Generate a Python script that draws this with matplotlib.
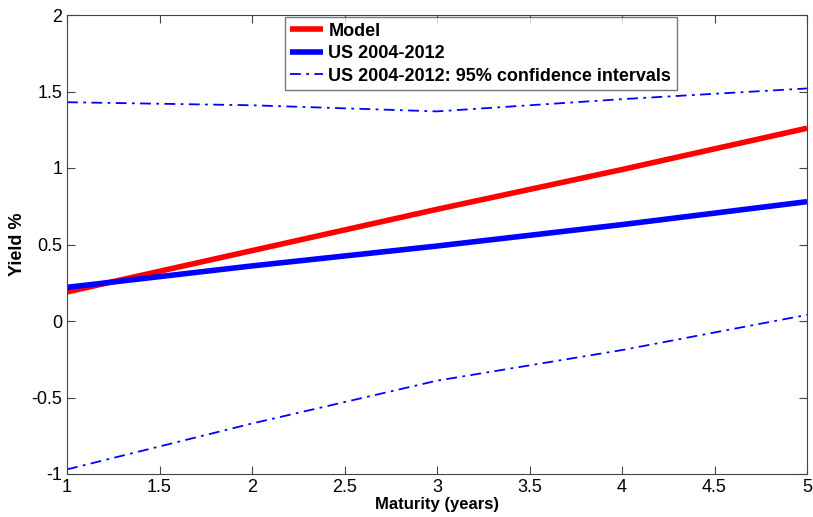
import matplotlib
matplotlib.use("Agg")
import matplotlib.pyplot as plt

maturity = [1, 2, 3, 4, 5]
model = [0.19, 0.46, 0.73, 0.99, 1.26]
us_mean = [0.22, 0.36, 0.49, 0.63, 0.78]
ci_upper = [1.43, 1.41, 1.37, 1.45, 1.52]
ci_lower = [-0.97, -0.67, -0.39, -0.19, 0.04]

plt.rcParams['font.family'] = ['Liberation Sans', 'DejaVu Sans']

fig = plt.figure(figsize=(8.13, 5.17), dpi=100)
ax = fig.add_axes([67 / 813, 1 - 474 / 517, 740 / 813, 459 / 517])

ax.plot(maturity, model, color='red', lw=4, label='Model', solid_capstyle='butt')
ax.plot(maturity, us_mean, color='blue', lw=4, label='US 2004-2012', solid_capstyle='butt')
ax.plot(maturity, ci_upper, color='blue', lw=1.3, ls=(0, (6, 3, 1.5, 3)),
        label='US 2004-2012: 95% confidence intervals')
ax.plot(maturity, ci_lower, color='blue', lw=1.3, ls=(0, (6, 3, 1.5, 3)))

ax.set_xlim(1, 5)
ax.set_ylim(-1, 2)
ax.set_xticks([1, 1.5, 2, 2.5, 3, 3.5, 4, 4.5, 5])
ax.set_xticklabels(['1', '1.5', '2', '2.5', '3', '3.5', '4', '4.5', '5'])
ax.set_yticks([-1, -0.5, 0, 0.5, 1, 1.5, 2])
ax.set_yticklabels(['-1', '-0.5', '0', '0.5', '1', '1.5', '2'])
ax.tick_params(direction='in', top=True, right=True, labelsize=13, length=6, color='#444444')
for s in ax.spines.values():
    s.set_color('#444444')

ax.set_xlabel('Maturity (years)', fontsize=12, fontweight='bold', labelpad=1)
ax.set_ylabel('Yield %', fontsize=13, fontweight='bold', labelpad=4)

leg = ax.legend(loc='upper left', bbox_to_anchor=(218 / 740, 0.995), fancybox=False,
                prop={'weight': 'bold', 'size': 13}, handlelength=1.8, borderpad=0.3,
                labelspacing=0.3, handletextpad=0.3, borderaxespad=0)
leg.get_frame().set_edgecolor('#555555')
leg.get_frame().set_linewidth(1)

fig.savefig('out.png', dpi=100)
